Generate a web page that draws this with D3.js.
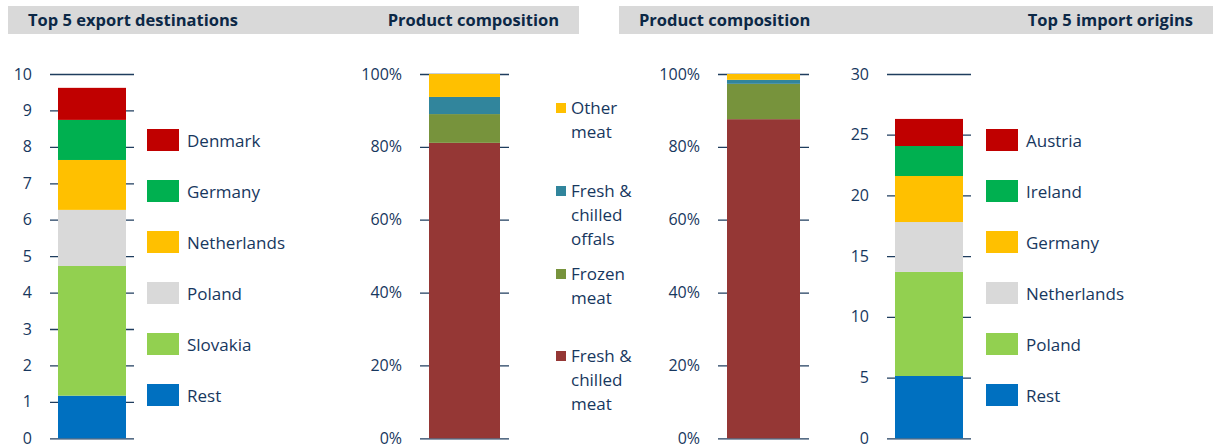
<!DOCTYPE html>
<html>
<head>
<meta charset="utf-8">
<script src="https://cdn.jsdelivr.net/npm/d3@7"></script>
<style>
  body { margin: 0; background: #fff; }
  text { font-family: "Open Sans", sans-serif; }
</style>
</head>
<body>
<svg id="chart"></svg>
<script>
const width = 1215, height = 444

// data
const exportCountries = ["Rest", "Slovakia", "Poland", "Netherlands", "Germany", "Denmark"]
const exportValues = [1.17, 3.56, 1.54, 1.37, 1.10, 0.88]
const exportTicks = [0, 1, 2, 3, 4, 5, 6, 7, 8, 9, 10]

const importCountries = ["Rest", "Poland", "Netherlands", "Germany", "Ireland", "Austria"]
const importValues = [5.13, 8.57, 4.11, 3.79, 2.47, 2.23]
const importTicks = [0, 5, 10, 15, 20, 25, 30]

const products = ["Fresh & chilled meat", "Frozen meat", "Fresh & chilled offals", "Other meat"]
const productLines = [["Fresh &", "chilled", "meat"], ["Frozen", "meat"], ["Fresh &", "chilled", "offals"], ["Other", "meat"]]
const exportShares = [81.1, 7.9, 4.7, 6.3]
const importShares = [87.6, 9.7, 1.1, 1.6]
const shareTicks = [0, 20, 40, 60, 80, 100]

const countryColors = ["#0070C0", "#92D050", "#D9D9D9", "#FFC000", "#00B050", "#C00000"]
const productColors = ["#953735", "#77933C", "#31859C", "#FFC000"]

const textColor = "#17375E"
const y0 = 438.3, y1 = 74

const svg = d3.select("svg#chart")
    .attr("width", width)
    .attr("height", height)
    .attr("viewBox", [0, 0, width, height])

// header bands
const headers = [
    {x: 8, w: 571, left: "Top 5 export destinations", right: "Product composition"},
    {x: 619, w: 594, left: "Product composition", right: "Top 5 import origins"}
]
headers.forEach(h => {
    svg.append("rect")
        .attr("x", h.x).attr("y", 6)
        .attr("width", h.w).attr("height", 28)
        .attr("fill", "#D9D9D9")
    svg.append("text")
        .attr("x", h.x + 20).attr("y", 26)
        .attr("font-size", 16.5).attr("font-weight", "bold")
        .attr("fill", "#0C2846")
        .text(h.left)
    svg.append("text")
        .attr("x", h.x + h.w - 20).attr("y", 26)
        .attr("text-anchor", "end")
        .attr("font-size", 16.5).attr("font-weight", "bold")
        .attr("fill", "#0C2846")
        .text(h.right)
})

function drawPanel(opts) {
    const y = d3.scaleLinear().domain([0, opts.max]).range([y0, y1])
    const g = svg.append("g")

    const axis = d3.axisLeft(y)
        .tickValues(opts.ticks)
        .tickSize(opts.axisX1 - opts.axisX0)
        .tickPadding(18)
        .tickFormat(opts.format)

    const ax = g.append("g")
        .attr("transform", `translate(${opts.axisX1},0)`)
        .call(axis)
    ax.select(".domain").remove()
    ax.selectAll("line").attr("stroke", "#1F3D5E").attr("stroke-width", 1.3)
    ax.selectAll("text")
        .attr("fill", textColor)
        .attr("font-size", 16)
        .style("font-family", "'Open Sans', sans-serif")

    const keys = opts.keys
    const row = {}
    keys.forEach((k, i) => row[k] = opts.values[i])
    const series = d3.stack().keys(keys)([row])

    g.selectAll("rect.bar")
        .data(series)
        .enter()
        .append("rect").attr("class", "bar")
        .attr("x", opts.barX)
        .attr("width", opts.barW)
        .attr("y", d => y(d[0][1]))
        .attr("height", d => y(d[0][0]) - y(d[0][1]))
        .attr("fill", (d, i) => opts.colors[i])
}

function drawCountryLegend(keys, colors, x) {
    const items = keys.map((k, i) => ({name: k, color: colors[i]})).reverse()
    const lg = svg.append("g")
        .selectAll("g")
        .data(items)
        .enter()
        .append("g")
        .attr("transform", (d, i) => `translate(${x}, ${129 + i * 51})`)
    lg.append("rect")
        .attr("width", 32).attr("height", 22)
        .attr("fill", d => d.color)
    lg.append("text")
        .attr("x", 40).attr("y", 17.5)
        .attr("font-size", 17)
        .attr("fill", textColor)
        .text(d => d.name)
}

drawPanel({max: 10, ticks: exportTicks, format: d3.format("d"), axisX0: 50, axisX1: 134,
    barX: 58, barW: 68, keys: exportCountries, values: exportValues, colors: countryColors})
drawCountryLegend(exportCountries, countryColors, 147)

drawPanel({max: 100, ticks: shareTicks, format: d => d + "%", axisX0: 420, axisX1: 509,
    barX: 429, barW: 71, keys: products, values: exportShares, colors: productColors})

drawPanel({max: 100, ticks: shareTicks, format: d => d + "%", axisX0: 718, axisX1: 809,
    barX: 727, barW: 73, keys: products, values: importShares, colors: productColors})

drawPanel({max: 30, ticks: importTicks, format: d3.format("d"), axisX0: 887, axisX1: 971,
    barX: 895, barW: 68, keys: importCountries, values: importValues, colors: countryColors})
drawCountryLegend(importCountries, countryColors, 986)

// product legend (small squares, wrapped labels)
const productLegendTop = [351, 269, 186, 103]
const plg = svg.append("g")
    .selectAll("g")
    .data(products.map((p, i) => ({name: p, lines: productLines[i], color: productColors[i], top: productLegendTop[i]})))
    .enter()
    .append("g")
    .attr("transform", d => `translate(556, ${d.top})`)
plg.append("rect")
    .attr("width", 10).attr("height", 10)
    .attr("fill", d => d.color)
plg.append("text")
    .attr("x", 15).attr("y", 11)
    .attr("font-size", 17)
    .attr("fill", textColor)
    .selectAll("tspan")
    .data(d => d.lines)
    .enter()
    .append("tspan")
    .attr("x", 15)
    .attr("dy", (d, i) => i === 0 ? 0 : 24)
    .text(d => d)
</script>
</body>
</html>
